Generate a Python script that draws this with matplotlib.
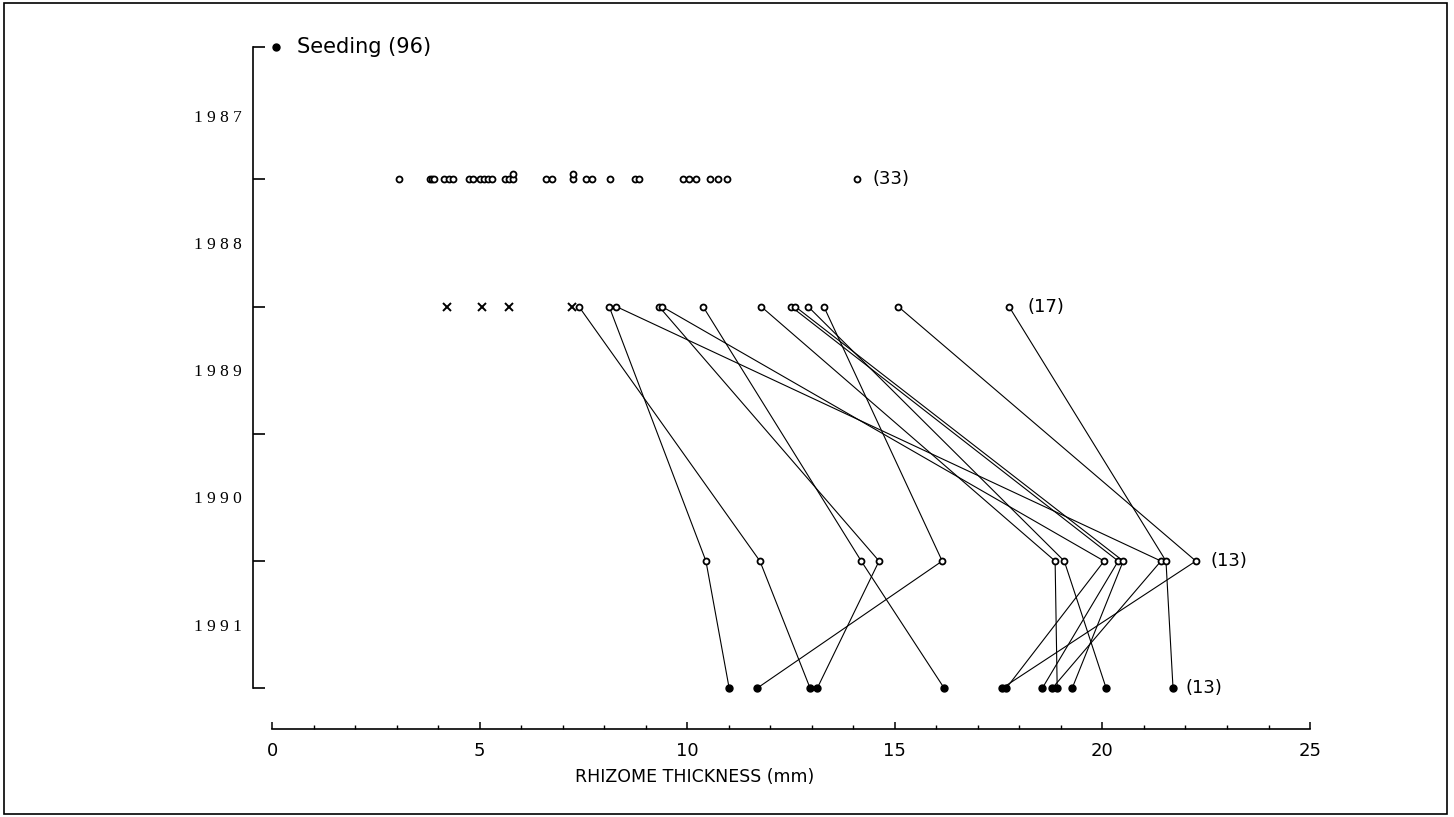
import matplotlib.pyplot as plt
import numpy as np
from matplotlib.ticker import MultipleLocator
from matplotlib.patches import Rectangle

# rhizome thickness (mm) of the plants measured each year
seeding = [0.1]
y1987 = [3.05, 3.8, 3.85, 3.9, 4.15, 4.25, 4.35, 4.75, 4.85, 5.0, 5.1, 5.2, 5.3,
         5.6, 5.7, 5.8, 5.8, 6.6, 6.75, 7.25, 7.25, 7.55, 7.7, 8.15, 8.75, 8.85,
         9.9, 10.05, 10.2, 10.55, 10.75, 10.95, 14.1]
y1988_dead = [4.21, 5.06, 5.71, 7.23]
# same plant followed 1988 -> 1990 -> 1991
y1988 = [7.39, 8.12, 8.29, 9.32, 9.39, 10.38, 11.78, 12.50, 12.60, 12.91, 13.29, 15.08, 17.75]
y1990 = [11.75, 10.45, 21.41, 14.62, 20.04, 14.19, 18.86, 20.38, 20.50, 19.08, 16.14, 22.25, 21.53]
y1991 = [12.96, 11.01, 18.79, 13.13, 17.68, 16.19, 18.91, 18.55, 19.27, 20.09, 11.68, 17.58, 21.70]

year_labels = ['1 9 8 7', '1 9 8 8', '1 9 8 9', '1 9 9 0', '1 9 9 1']
# row of each sampling, counted from the bottom
row_seed, row_87, row_88, row_90, row_91 = 5.04, 4, 3, 1, 0

fig = plt.figure(figsize=(14.54, 8.17), dpi=100)
fig.patches.append(Rectangle((0.003, 0.004), 0.992, 0.992, transform=fig.transFigure,
                             fill=False, lw=1.2, ec='black'))
ax = fig.add_axes([0.1871, 0.1077, 0.7139, 0.8348])

lw = 0.8
for a, b, c in zip(y1988, y1990, y1991):
    ax.plot([a, b, c], [row_88, row_90, row_91], color='black', lw=lw, zorder=1)

# equal values are stacked a little above each other
rows87 = []
seen = {}
for v in y1987:
    rows87.append(row_87 + 0.04 * seen.get(v, 0))
    seen[v] = seen.get(v, 0) + 1

ax.plot(seeding, [row_seed], 'o', color='black', ms=5, clip_on=False)
ax.plot(y1987, rows87, 'o', mfc='white', mec='black', ms=4.3, mew=1.3)
ax.plot(y1988_dead, [row_88] * len(y1988_dead), 'x', color='black', ms=5.5, mew=1.4)
ax.plot(y1988, [row_88] * len(y1988), 'o', mfc='white', mec='black', ms=4.3, mew=1.3, zorder=3)
ax.plot(y1990, [row_90] * len(y1990), 'o', mfc='white', mec='black', ms=4.3, mew=1.3, zorder=3)
ax.plot(y1991, [row_91] * len(y1991), 'o', color='black', ms=5, zorder=3)

fs = 13
ax.text(0.6, row_seed, 'Seeding (96)', fontsize=15, va='center', ha='left')
ax.text(max(y1987) + 0.35, row_87, '(33)', fontsize=fs, va='center', ha='left')
ax.text(max(y1988) + 0.45, row_88, '(17)', fontsize=fs, va='center', ha='left')
ax.text(max(y1990) + 0.35, row_90, '(13)', fontsize=fs, va='center', ha='left')
ax.text(max(y1991) + 0.3, row_91, '(13)', fontsize=fs, va='center', ha='left')

ax.set_xlim(0, 25)
ax.set_ylim(-0.32, row_seed)
ax.spines['top'].set_visible(False)
ax.spines['right'].set_visible(False)
ax.spines['left'].set_position(('outward', 13.7))
ax.spines['left'].set_bounds(0, row_seed)
ax.spines['bottom'].set_bounds(0, 25)

ax.set_yticks([0, 1, 2, 3, 4, row_seed])
ax.set_yticklabels([])
ax.set_yticks([4.5, 3.5, 2.5, 1.5, 0.5], minor=True)
ax.set_yticklabels(year_labels, minor=True, fontsize=12.5, family='Liberation Serif')
ax.tick_params(axis='y', which='major', direction='in', length=8.5, width=1.2)
ax.tick_params(axis='y', which='minor', length=0, pad=8)

ax.xaxis.set_major_locator(MultipleLocator(5))
ax.xaxis.set_minor_locator(MultipleLocator(1))
ax.tick_params(axis='x', which='major', direction='in', length=5, width=1.1, labelsize=13, pad=9)
ax.tick_params(axis='x', which='minor', direction='in', length=3, width=1.0)
ax.set_xlabel('RHIZOME THICKNESS (mm)', fontsize=12.5)
ax.xaxis.set_label_coords(0.4075, -0.057)
for s in ax.spines.values():
    s.set_linewidth(1.2)

fig.savefig('out.png', dpi=100)
